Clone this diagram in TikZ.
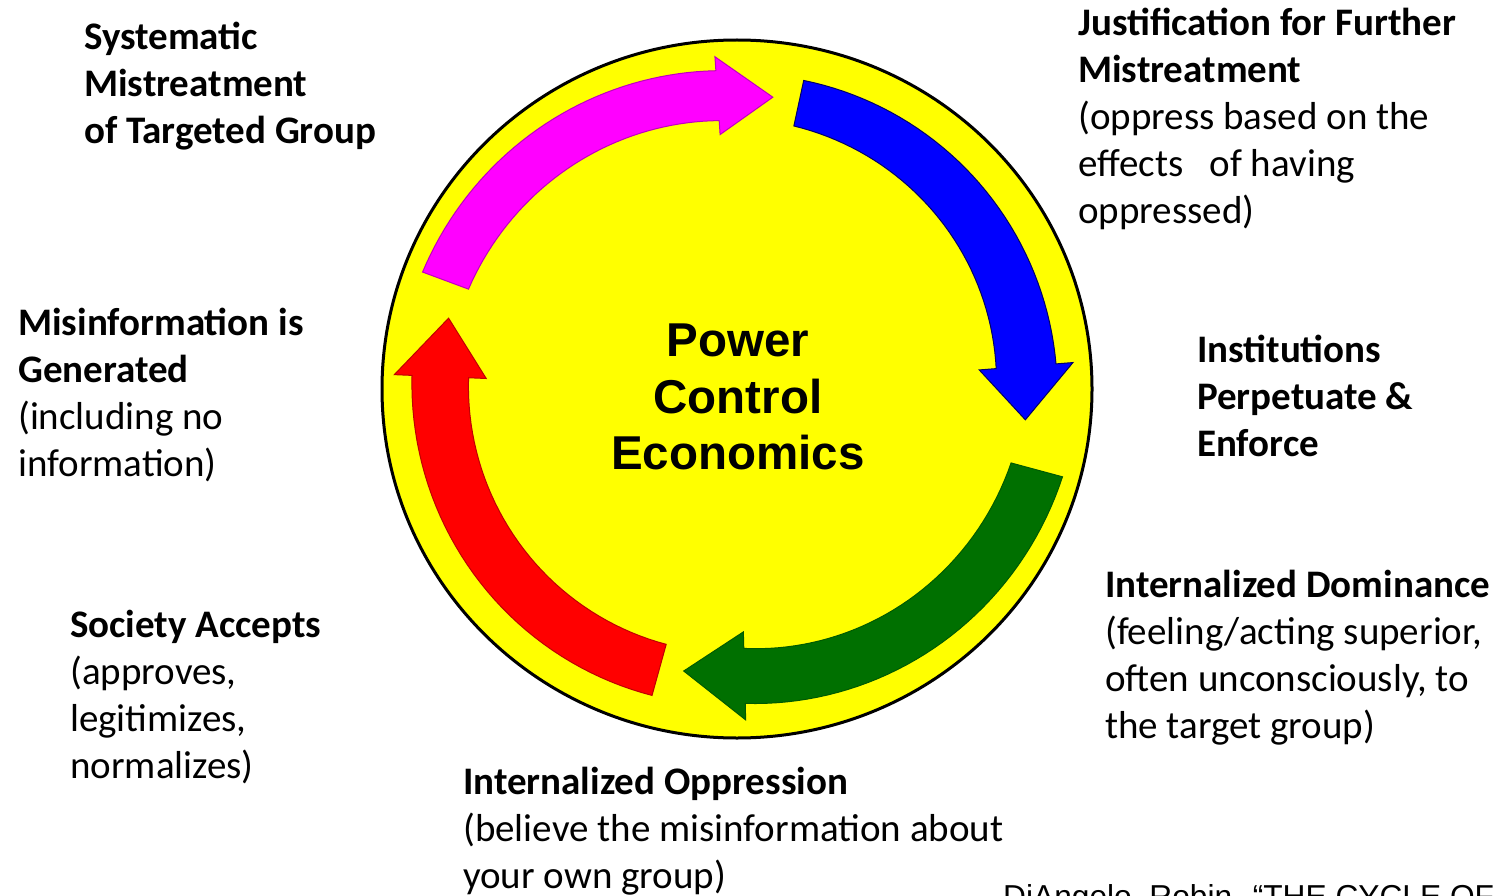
\documentclass[tikz,border=0pt]{standalone}
\usepackage{fontspec}
\setmainfont{Carlito}
\newfontfamily\arialfont{Liberation Sans}

\definecolor{cycleyellow}{RGB}{255,255,0}
\definecolor{cyclemagenta}{RGB}{255,0,255}
\definecolor{cycleblue}{RGB}{0,0,255}
\definecolor{cyclegreen}{RGB}{0,112,0}
\definecolor{cyclered}{RGB}{255,0,0}

% curved block arrow round the centre: style, tail angle, head angle, tip angle,
% tail radius, head radius, tail half width, head half width, head half size
\newcommand\cyclearrow[9]{%
  \filldraw[#1]
    plot[domain=#2:#3, samples=40] (\x:{#5+(#6-#5)*(\x-(#2))/((#3)-(#2))+#7+(#8-#7)*(\x-(#2))/((#3)-(#2))})
    -- (#3:{#6+#9}) -- (#4:{#6}) -- (#3:{#6-#9})
    -- plot[domain=#3:#2, samples=40] (\x:{#5+(#6-#5)*(\x-(#2))/((#3)-(#2))-#7-(#8-#7)*(\x-(#2))/((#3)-(#2))})
    -- cycle;}

\begin{document}
\begin{tikzpicture}[
    x=1pt, y=-1pt,
    stage/.style={anchor=north west, inner sep=0pt, align=left,
      font=\fontsize{39}{47}\selectfont, execute at begin node={\rule{0pt}{30pt}}},
    core/.style={anchor=north, inner sep=0pt, align=center,
      font=\arialfont\bfseries\fontsize{47.5}{56.3}\selectfont, execute at begin node={\rule{0pt}{40pt}}},
    cite/.style={anchor=base west, inner sep=0pt, font=\arialfont\fontsize{31.7}{38}\selectfont},
    magentaarrow/.style={fill=cyclemagenta, draw=cyclemagenta!75!black, line width=1},
    bluearrow/.style={fill=cycleblue, draw=cycleblue!40!black, line width=1},
    greenarrow/.style={fill=cyclegreen, draw=cyclegreen!80!black, line width=1},
    redarrow/.style={fill=cyclered, draw=cyclered!75!black, line width=1}
]

\path[use as bounding box, clip] (0,0) rectangle (1496,896);
\fill[white] (0,0) rectangle (1496,896);

% the disc
\draw[fill=cycleyellow, line width=3] (737,389) ellipse [x radius=355, y radius=349];

% the four arrows of the cycle
\begin{scope}[shift={(737,389)}]
\cyclearrow{magentaarrow}{-159.6}{-93.8}{-83.0}{311}{294}{24.5}{25}{39}
\cyclearrow{bluearrow}{-77.8}{-4.5}{6.1}{292.4}{290}{23.3}{30}{47}
\cyclearrow{greenarrow}{15.1}{88.5}{100.7}{310.5}{287}{26.6}{27.5}{44}
\cyclearrow{redarrow}{105.5}{182.4}{193.8}{291.5}{297}{26.5}{28.3}{46}
\end{scope}

% centre text
\node[core] (centre) at (738,324) {Power\\Control\\Economics};

% stages round the cycle
\node[stage] (systematic) at (84,22) {\textbf{Systematic}\\\textbf{Mistreatment}\\\textbf{of Targeted Group}};
\node[stage] (justification) at (1078,8) {\textbf{Justification for Further}\\\textbf{Mistreatment}\\(oppress based on the\\effects\ \ \ of having\\oppressed)};
\node[stage] (institutions) at (1197,335) {\textbf{Institutions}\\\textbf{Perpetuate \&}\\\textbf{Enforce}};
\node[stage] (dominance) at (1105,570) {\textbf{Internalized Dominance}\\(feeling/acting superior,\\often unconsciously, to\\the target group)};
\node[stage] (oppression) at (463,767) {\textbf{Internalized Oppression}\\(believe the misinformation about\\your own group)};
\node[stage] (society) at (70,610) {\textbf{Society Accepts}\\(approves,\\legitimizes,\\normalizes)};
\node[stage] (misinformation) at (18,308) {\textbf{Misinformation is}\\\textbf{Generated}\\(including no\\information)};

\node[cite] (source) at (1003,907) {DiAngelo, Robin. “THE CYCLE OF};

\end{tikzpicture}
\end{document}
